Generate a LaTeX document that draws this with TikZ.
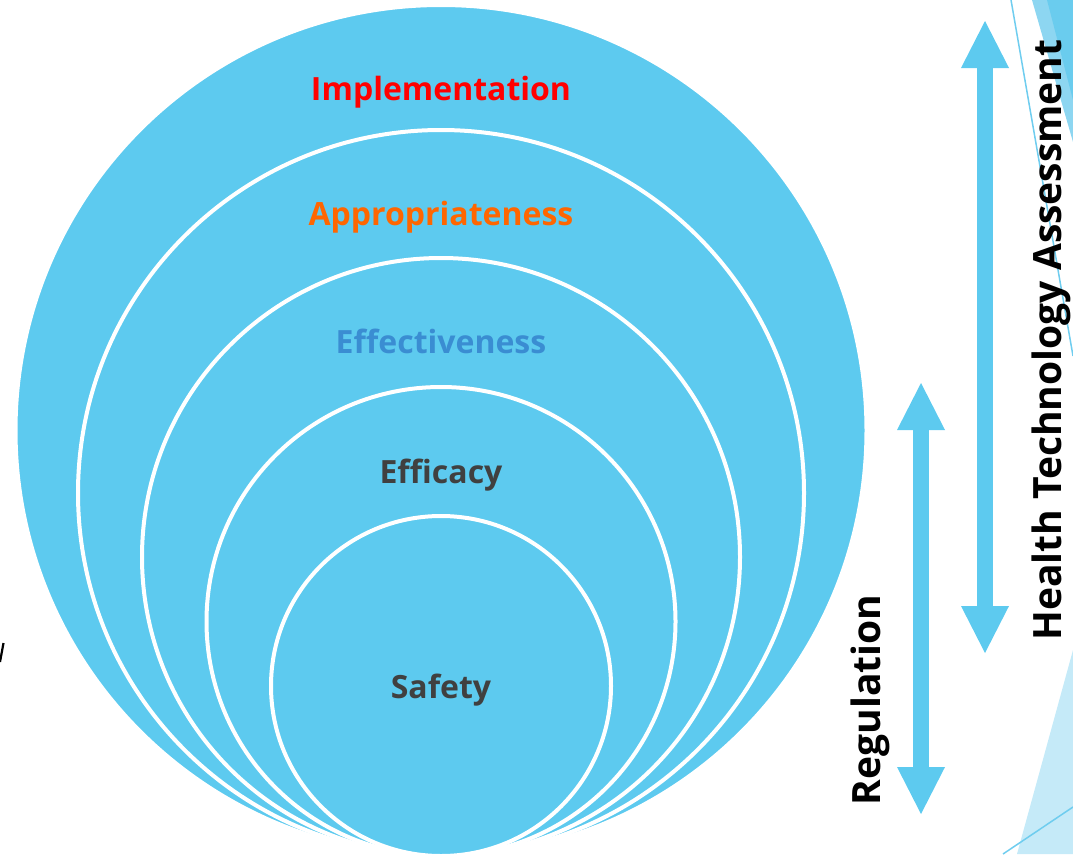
\documentclass[tikz,border=0pt]{standalone}
\usepackage{fontspec}
\setmainfont{Open Sans}
\usetikzlibrary{arrows.meta}
\definecolor{cfill}{HTML}{5DCAEF}
\definecolor{cred}{HTML}{FF0000}
\definecolor{corange}{HTML}{FF6600}
\definecolor{cblue}{HTML}{3A8DD2}
\definecolor{cgray}{HTML}{404040}
\definecolor{declight}{HTML}{8DD6F1}
\definecolor{decdark}{HTML}{6ACCEE}
\definecolor{decpale}{HTML}{C5EAF8}
\definecolor{decline}{HTML}{6FCDEF}
\tikzset{
  ring/.style={fill=cfill, draw=white, line width=4pt},
  lab/.style={inner sep=0pt, anchor=base, font=\fontsize{32}{38}\selectfont\bfseries},
  sidelab/.style={inner sep=0pt, anchor=base, rotate=90, text=black, font=\fontsize{39}{46}\selectfont\bfseries},
  bigarrow/.style={draw=cfill, line width=16pt,
    arrows={Triangle[width=48pt,length=47pt,line width=0pt]-Triangle[width=48pt,length=47pt,line width=0pt]}},
  decoline/.style={draw=decline, line width=1.5pt}
}
\begin{document}
\begin{tikzpicture}[x=1pt,y=-1pt]
\useasboundingbox (0,0) rectangle (1073,854);
% decorations at right edge
\fill[declight] (1032,0) -- (1073,0) -- (1073,142) -- cycle;
\fill[decdark] (1047,0) -- (1073,0) -- (1073,100) -- cycle;
\fill[decpale] (1073,650) -- (1073,854) -- (1017,854) -- cycle;
\coordinate (lnA1) at (1011,0);
\coordinate (lnA2) at (1073,356);
\coordinate (lnB1) at (1003,854);
\coordinate (lnB2) at (1073,807);
\draw[decoline] (lnA1) -- (lnA2);
\draw[decoline] (lnB1) -- (lnB2);
% left edge fragment
\coordinate (frA) at (0,662);
\coordinate (frB) at (3.5,643);
\draw[black, line width=2.2pt] (frA) -- (frB);
% nested circles, tangent at the bottom
\filldraw[ring] (441,430.5) circle[radius=425.5pt];
\filldraw[ring] (441,493) circle[radius=363pt];
\filldraw[ring] (441,557) circle[radius=299pt];
\filldraw[ring] (441,621.5) circle[radius=234.5pt];
\filldraw[ring] (441,686) circle[radius=170pt];
% labels
\node[lab, text=cred] (impl) at (441,100) {Implementation};
\node[lab, text=corange] (appr) at (441,225) {Appropriateness};
\node[lab, text=cblue] (effe) at (441,353) {Effectiveness};
\node[lab, text=cgray] (effi) at (441,483) {Efficacy};
\node[lab, text=cgray] (safe) at (441,698) {Safety};
% double arrows
\coordinate (htaTop) at (985,21);
\coordinate (htaBot) at (985,653);
\draw[bigarrow] (htaTop) -- (htaBot);
\coordinate (regTop) at (921,383);
\coordinate (regBot) at (921,814);
\draw[bigarrow] (regTop) -- (regBot);
% side labels
\node[sidelab] (hta) at (1061,340) {Health Technology Assessment};
\node[sidelab] (reg) at (880,700) {Regulation};
\end{tikzpicture}
\end{document}
